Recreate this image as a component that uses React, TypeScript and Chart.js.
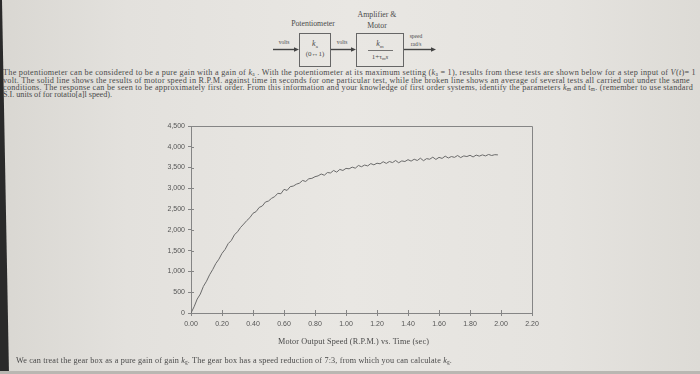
import React, { useEffect, useLayoutEffect, useRef } from "react";
import { Chart, registerables } from "chart.js";

Chart.register(...registerables);

// ---- data ----
const timeSec = [
  0.0, 0.02, 0.04, 0.06, 0.08, 0.1, 0.12, 0.14, 0.16, 0.18,
  0.2, 0.22, 0.24, 0.26, 0.28, 0.3, 0.32, 0.34, 0.36, 0.38,
  0.4, 0.42, 0.44, 0.46, 0.48, 0.5, 0.52, 0.54, 0.56, 0.58,
  0.6, 0.62, 0.64, 0.66, 0.68, 0.7, 0.72, 0.74, 0.76, 0.78,
  0.8, 0.82, 0.84, 0.86, 0.88, 0.9, 0.92, 0.94, 0.96, 0.98,
  1.0, 1.02, 1.04, 1.06, 1.08, 1.1, 1.12, 1.14, 1.16, 1.18,
  1.2, 1.22, 1.24, 1.26, 1.28, 1.3, 1.32, 1.34, 1.36, 1.38,
  1.4, 1.42, 1.44, 1.46, 1.48, 1.5, 1.52, 1.54, 1.56, 1.58,
  1.6, 1.62, 1.64, 1.66, 1.68, 1.7, 1.72, 1.74, 1.76, 1.78,
  1.8, 1.82, 1.84, 1.86, 1.88, 1.9, 1.92, 1.94, 1.96, 1.98,
];

const speedRpm = [
  0, 150, 335, 455, 640, 765, 920, 1045, 1190, 1295,
  1435, 1530, 1670, 1745, 1880, 1955, 2060, 2140, 2225, 2295,
  2400, 2440, 2540, 2575, 2670, 2695, 2760, 2800, 2880, 2870,
  2975, 2950, 3040, 3055, 3100, 3125, 3190, 3165, 3230, 3240,
  3280, 3300, 3345, 3315, 3380, 3370, 3430, 3390, 3455, 3430,
  3480, 3470, 3510, 3485, 3550, 3520, 3560, 3540, 3595, 3565,
  3605, 3590, 3640, 3600, 3645, 3620, 3670, 3615, 3660, 3645,
  3690, 3655, 3700, 3670, 3725, 3665, 3715, 3700, 3750, 3695,
  3745, 3720, 3775, 3730, 3765, 3745, 3790, 3740, 3780, 3765,
  3795, 3755, 3800, 3775, 3805, 3780, 3815, 3790, 3810, 3805,
];

const yTickValues = [0, 500, 1000, 1500, 2000, 2500, 3000, 3500, 4000, 4500];
const xTickValues = [0, 0.2, 0.4, 0.6, 0.8, 1.0, 1.2, 1.4, 1.6, 1.8, 2.0, 2.2];

const chartTitle = "Motor Output Speed (R.P.M.) vs. Time (sec)";

const AXIS = "#858585";
const INK = "#4a4a4a";
const SERIF = "'Liberation Serif', 'Times New Roman', serif";

const frame = {
  id: "frameAndTicks",
  beforeDatasetsDraw(chart: any) {
    const { ctx, chartArea: a, scales } = chart;
    ctx.save();
    ctx.strokeStyle = AXIS;
    ctx.lineWidth = 1;
    ctx.beginPath();
    ctx.moveTo(a.left, a.top + 0.5);
    ctx.lineTo(a.right + 0.5, a.top + 0.5);
    ctx.lineTo(a.right + 0.5, a.bottom);
    ctx.stroke();
    ctx.beginPath();
    scales.y.ticks.forEach((t: any) => {
      const y = Math.round(scales.y.getPixelForValue(t.value)) + 0.5;
      ctx.moveTo(a.left, y);
      ctx.lineTo(a.left + 3, y);
    });
    scales.x.ticks.forEach((t: any) => {
      const x = Math.round(scales.x.getPixelForValue(t.value)) + 0.5;
      ctx.moveTo(x, a.bottom);
      ctx.lineTo(x, a.bottom - 3);
    });
    ctx.stroke();
    ctx.restore();
  },
};

function SpeedChart() {
  const ref = useRef<HTMLCanvasElement>(null);
  useEffect(() => {
    if (!ref.current) return;
    const chart = new Chart(ref.current, {
      type: "line",
      data: {
        datasets: [
          {
            data: timeSec.map((t, i) => ({ x: t, y: speedRpm[i] })),
            borderColor: "#6a6a6a",
            borderWidth: 1,
            pointRadius: 0,
            tension: 0,
            fill: false,
          },
        ],
      },
      options: {
        animation: false,
        responsive: false,
        maintainAspectRatio: false,
        layout: { padding: { top: 16, right: 28, left: 0, bottom: 0 } },
        plugins: { legend: { display: false }, tooltip: { enabled: false } },
        scales: {
          x: {
            type: "linear",
            min: 0,
            max: 2.2,
            afterBuildTicks: (s: any) => {
              s.ticks = xTickValues.map((v) => ({ value: v }));
            },
            afterFit: (s: any) => {
              s.height = 27;
            },
            ticks: {
              callback: (v: any) => Number(v).toFixed(2),
              font: { family: "'Liberation Sans', Arial, sans-serif", size: 7 },
              color: "#555",
              maxRotation: 0,
              autoSkip: false,
              padding: 4,
            },
            grid: { drawOnChartArea: false, tickLength: 3, color: AXIS },
            border: { color: AXIS, width: 1 },
          },
          y: {
            type: "linear",
            min: 0,
            max: 4500,
            afterBuildTicks: (s: any) => {
              s.ticks = yTickValues.map((v) => ({ value: v }));
            },
            afterFit: (s: any) => {
              s.width = 51;
            },
            ticks: {
              callback: (v: any) => Number(v).toLocaleString("en-US"),
              font: { family: "'Liberation Sans', Arial, sans-serif", size: 7 },
              color: "#555",
              autoSkip: false,
              padding: 3,
            },
            grid: { drawOnChartArea: false, tickLength: 3, color: AXIS },
            border: { color: AXIS, width: 1 },
          },
        },
      },
      plugins: [frame],
    } as any);
    return () => chart.destroy();
  }, []);
  return (
    <canvas
      ref={ref}
      width={420}
      height={230}
      style={{ position: "absolute", left: 140, top: 110, width: 420, height: 230 }}
    />
  );
}

function JLine({
  left,
  top,
  width,
  size = 8.2,
  children,
}: {
  left: number;
  top: number;
  width?: number;
  size?: number;
  children: any;
}) {
  const ref = useRef<HTMLSpanElement>(null);
  useLayoutEffect(() => {
    const el = ref.current;
    if (!el || !width) return;
    el.style.letterSpacing = "0px";
    const natural = el.getBoundingClientRect().width;
    const chars = (el.textContent || "").length;
    if (chars > 1) el.style.letterSpacing = (width - natural) / chars + "px";
  }, [width]);
  return (
    <span
      ref={ref}
      style={{
        position: "absolute",
        left,
        top,
        whiteSpace: "pre",
        fontFamily: SERIF,
        fontSize: size,
        lineHeight: "8px",
        color: INK,
      }}
    >
      {children}
    </span>
  );
}

const Sub = ({ c }: { c: string }) => (
  <sub style={{ fontSize: "0.65em", verticalAlign: "-0.25em", lineHeight: 0 }}>{c}</sub>
);
const K = ({ s }: { s: string }) => (
  <>
    <i>k</i>
    <Sub c={s} />
  </>
);

function Diagram() {
  const t = { fontFamily: SERIF, fill: "#4a4a4a" } as any;
  const arrow = (x1: number, x2: number, y: number) => (
    <g>
      <line x1={x1} y1={y} x2={x2 - 4} y2={y} stroke="#444" strokeWidth={1.4} />
      <polygon points={`${x2},${y} ${x2 - 5},${y - 2.2} ${x2 - 5},${y + 2.2}`} fill="#444" />
    </g>
  );
  return (
    <svg width={700} height={80} style={{ position: "absolute", left: 0, top: 0 }}>
      <text x={377} y={17} textAnchor="middle" fontSize={7.8} {...t}>Amplifier &amp;</text>
      <text x={377} y={27.5} textAnchor="middle" fontSize={7.8} {...t}>Motor</text>
      <text x={313} y={25.5} textAnchor="middle" fontSize={7.8} {...t}>Potentiometer</text>
      <rect x={299.5} y={33.5} width={31} height={33} fill="none" stroke="#666" strokeWidth={1} />
      <rect x={356.5} y={33.5} width={47} height={33} fill="none" stroke="#666" strokeWidth={1} />
      {arrow(273, 299, 49.5)}
      {arrow(331, 356, 49.5)}
      {arrow(404, 436, 49.5)}
      <text x={284} y={44} textAnchor="middle" fontSize={5.5} {...t}>volts</text>
      <text x={342} y={44} textAnchor="middle" fontSize={5.5} {...t}>volts</text>
      <text x={416} y={38} textAnchor="middle" fontSize={5.5} {...t}>speed</text>
      <text x={416} y={46} textAnchor="middle" fontSize={5.5} {...t}>rad/s</text>
      <text x={315} y={46} textAnchor="middle" fontSize={8} {...t}>
        <tspan fontStyle="italic">k</tspan>
        <tspan fontSize={5} dy={1.5}>a</tspan>
      </text>
      <text x={315} y={56} textAnchor="middle" fontSize={7} {...t}>(0↔1)</text>
      <text x={380} y={46} textAnchor="middle" fontSize={8} {...t}>
        <tspan fontStyle="italic">k</tspan>
        <tspan fontSize={5} dy={1.5}>m</tspan>
      </text>
      <line x1={368} y1={50.5} x2={393} y2={50.5} stroke="#555" strokeWidth={0.8} />
      <text x={380} y={59} textAnchor="middle" fontSize={7} {...t}>
        1+τ<tspan fontSize={4.5} dy={1.2}>m</tspan>
        <tspan dy={-1.2} fontStyle="italic">s</tspan>
      </text>
    </svg>
  );
}

export default function App() {
  return (
    <div
      style={{
        position: "absolute",
        left: 0,
        top: 0,
        width: 700,
        height: 374,
        overflow: "hidden",
        background:
          "linear-gradient(90deg, #d9d7d2 0%, #e3e1dd 18%, #e9e7e3 50%, #e5e3df 80%, #dddbd6 100%)",
      }}
    >
      <div
        style={{
          position: "absolute",
          left: 0,
          top: 0,
          width: 12,
          height: 374,
          background: "#2a2a2a",
          clipPath: "polygon(0 0, 2px 0, 9px 100%, 0 100%)",
        }}
      />
      <div
        style={{ position: "absolute", left: 0, top: 371, width: 700, height: 3, background: "#b9b7b2" }}
      />
      <Diagram />
      <JLine left={3} top={69} width={693}>
        The potentiometer can be considered to be a pure gain with a gain of <K s="a" /> . With the
        potentiometer at its maximum setting (<K s="a" /> = 1), results from these tests are shown below
        for a step input of <i>V</i>(<i>t</i>)= 1
      </JLine>
      <JLine left={3} top={76.5} width={687}>
        volt. The solid line shows the results of motor speed in R.P.M. against time in seconds for one
        particular test, while the broken line shows an average of several tests all carried out under the same
      </JLine>
      <JLine left={3} top={83.5} width={690}>
        conditions. The response can be seen to be approximately first order. From this information and your
        knowledge of first order systems, identify the parameters <K s="m" /> and t<Sub c="m" />. (remember to
        use standard
      </JLine>
      <JLine left={3} top={91} width={109}>S.I. units of for rotatio[a]l speed).</JLine>
      <SpeedChart />
      <JLine left={278} top={338} width={151}>
        {chartTitle}
      </JLine>
      <JLine left={16} top={357} width={436}>
        We can treat the gear box as a pure gain of gain <K s="g" />. The gear box has a speed reduction of
        7:3, from which you can calculate <K s="g" />.
      </JLine>
    </div>
  );
}
